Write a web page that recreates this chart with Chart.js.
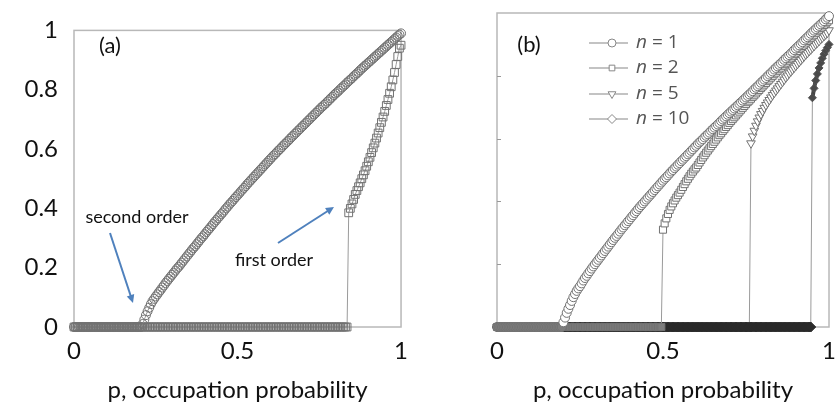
<!DOCTYPE html>
<html>
<head>
<meta charset="utf-8">
<script src="https://cdn.jsdelivr.net/npm/chart.js@4.4.0/dist/chart.umd.min.js"></script>
<style>
  html, body { margin: 0; padding: 0; background: #fff; overflow: hidden; width: 835px; height: 410px; }
  #chartA { position: absolute; left: 0; top: 0; }
  #chartB { position: absolute; left: 418px; top: 0; }
</style>
</head>
<body>
<canvas id="chartA" width="418" height="410"></canvas>
<canvas id="chartB" width="440" height="410"></canvas>
<script>
// occupation probability grid, step 0.005
const p = Array.from({ length: 201 }, (_, i) => i / 200);

const xTickLabels = ['0', '0.5', '1'];
const yTickLabels = ['0', '0.2', '0.4', '0.6', '0.8', '1'];

// panel (a): one row = 0.05 of p
const aSecond = [
  0, 0, 0, 0, 0, 0, 0, 0, 0, 0,
  0, 0, 0, 0, 0, 0, 0, 0, 0, 0,
  0, 0, 0, 0, 0, 0, 0, 0, 0, 0,
  0, 0, 0, 0, 0, 0, 0, 0, 0, 0,
  0, 0, 0.01, 0.025, 0.04, 0.053, 0.065, 0.077, 0.087, 0.095,
  0.103, 0.11, 0.118, 0.125, 0.133, 0.14, 0.148, 0.155, 0.162, 0.169,
  0.176, 0.183, 0.19, 0.197, 0.203, 0.21, 0.217, 0.224, 0.231, 0.238,
  0.245, 0.252, 0.259, 0.266, 0.272, 0.279, 0.286, 0.293, 0.30, 0.306,
  0.313, 0.32, 0.327, 0.333, 0.34, 0.347, 0.354, 0.36, 0.367, 0.373,
  0.38, 0.386, 0.393, 0.40, 0.406, 0.413, 0.419, 0.425, 0.432, 0.438,
  0.444, 0.45, 0.457, 0.463, 0.469, 0.475, 0.482, 0.488, 0.494, 0.50,
  0.506, 0.512, 0.518, 0.524, 0.53, 0.536, 0.542, 0.548, 0.554, 0.56,
  0.566, 0.572, 0.578, 0.583, 0.589, 0.595, 0.60, 0.606, 0.612, 0.617,
  0.623, 0.628, 0.634, 0.64, 0.645, 0.651, 0.656, 0.662, 0.667, 0.673,
  0.678, 0.684, 0.689, 0.695, 0.70, 0.706, 0.711, 0.717, 0.722, 0.728,
  0.733, 0.739, 0.744, 0.749, 0.754, 0.76, 0.765, 0.771, 0.776, 0.782,
  0.787, 0.792, 0.797, 0.803, 0.808, 0.813, 0.818, 0.824, 0.829, 0.834,
  0.839, 0.845, 0.85, 0.855, 0.86, 0.866, 0.871, 0.876, 0.881, 0.886,
  0.891, 0.896, 0.901, 0.906, 0.911, 0.916, 0.921, 0.926, 0.931, 0.936,
  0.941, 0.946, 0.951, 0.956, 0.961, 0.966, 0.971, 0.976, 0.981, 0.986,
  0.99
];
const aFirst = [
  0, 0, 0, 0, 0, 0, 0, 0, 0, 0,
  0, 0, 0, 0, 0, 0, 0, 0, 0, 0,
  0, 0, 0, 0, 0, 0, 0, 0, 0, 0,
  0, 0, 0, 0, 0, 0, 0, 0, 0, 0,
  0, 0, 0, 0, 0, 0, 0, 0, 0, 0,
  0, 0, 0, 0, 0, 0, 0, 0, 0, 0,
  0, 0, 0, 0, 0, 0, 0, 0, 0, 0,
  0, 0, 0, 0, 0, 0, 0, 0, 0, 0,
  0, 0, 0, 0, 0, 0, 0, 0, 0, 0,
  0, 0, 0, 0, 0, 0, 0, 0, 0, 0,
  0, 0, 0, 0, 0, 0, 0, 0, 0, 0,
  0, 0, 0, 0, 0, 0, 0, 0, 0, 0,
  0, 0, 0, 0, 0, 0, 0, 0, 0, 0,
  0, 0, 0, 0, 0, 0, 0, 0, 0, 0,
  0, 0, 0, 0, 0, 0, 0, 0, 0, 0,
  0, 0, 0, 0, 0, 0, 0, 0, 0, 0,
  0, 0, 0, 0, 0, 0, 0, 0, 0.385, 0.40,
  0.415, 0.43, 0.447, 0.46, 0.473, 0.486, 0.50, 0.513, 0.527, 0.542,
  0.557, 0.572, 0.588, 0.604, 0.62, 0.637, 0.654, 0.672, 0.69, 0.708,
  0.727, 0.747, 0.767, 0.788, 0.81, 0.833, 0.858, 0.885, 0.912, 0.94,
  0.95
];

// panel (b)
const bN1 = [
  0, 0, 0, 0, 0, 0, 0, 0, 0, 0,
  0, 0, 0, 0, 0, 0, 0, 0, 0, 0,
  0, 0, 0, 0, 0, 0, 0, 0, 0, 0,
  0, 0, 0, 0, 0, 0, 0, 0, 0, 0,
  0.015, 0.03, 0.045, 0.058, 0.07, 0.083, 0.095, 0.105, 0.115, 0.123,
  0.13, 0.139, 0.148, 0.156, 0.163, 0.171, 0.178, 0.186, 0.193, 0.20,
  0.207, 0.214, 0.221, 0.228, 0.235, 0.242, 0.249, 0.256, 0.263, 0.27,
  0.277, 0.284, 0.29, 0.297, 0.304, 0.311, 0.317, 0.324, 0.33, 0.337,
  0.343, 0.35, 0.356, 0.363, 0.369, 0.376, 0.382, 0.388, 0.394, 0.40,
  0.406, 0.412, 0.418, 0.424, 0.43, 0.436, 0.442, 0.448, 0.454, 0.46,
  0.466, 0.472, 0.477, 0.483, 0.489, 0.495, 0.50, 0.506, 0.511, 0.517,
  0.522, 0.528, 0.533, 0.539, 0.544, 0.55, 0.555, 0.561, 0.566, 0.572,
  0.577, 0.583, 0.588, 0.593, 0.598, 0.604, 0.609, 0.614, 0.619, 0.625,
  0.63, 0.635, 0.64, 0.645, 0.65, 0.656, 0.661, 0.666, 0.671, 0.676,
  0.681, 0.686, 0.691, 0.696, 0.701, 0.706, 0.711, 0.716, 0.721, 0.726,
  0.731, 0.736, 0.741, 0.746, 0.751, 0.757, 0.762, 0.767, 0.772, 0.778,
  0.783, 0.788, 0.793, 0.799, 0.804, 0.809, 0.814, 0.82, 0.825, 0.83,
  0.835, 0.84, 0.845, 0.851, 0.856, 0.861, 0.866, 0.871, 0.876, 0.882,
  0.887, 0.892, 0.897, 0.902, 0.907, 0.913, 0.918, 0.923, 0.928, 0.934,
  0.939, 0.944, 0.949, 0.954, 0.959, 0.964, 0.969, 0.974, 0.98, 0.985,
  0.99
];
const bN2 = [
  0, 0, 0, 0, 0, 0, 0, 0, 0, 0,
  0, 0, 0, 0, 0, 0, 0, 0, 0, 0,
  0, 0, 0, 0, 0, 0, 0, 0, 0, 0,
  0, 0, 0, 0, 0, 0, 0, 0, 0, 0,
  0, 0, 0, 0, 0, 0, 0, 0, 0, 0,
  0, 0, 0, 0, 0, 0, 0, 0, 0, 0,
  0, 0, 0, 0, 0, 0, 0, 0, 0, 0,
  0, 0, 0, 0, 0, 0, 0, 0, 0, 0,
  0, 0, 0, 0, 0, 0, 0, 0, 0, 0,
  0, 0, 0, 0, 0, 0, 0, 0, 0, 0,
  0.31, 0.33, 0.346, 0.36, 0.373, 0.384, 0.394, 0.403, 0.412, 0.42,
  0.428, 0.437, 0.446, 0.455, 0.464, 0.472, 0.48, 0.488, 0.495, 0.502,
  0.508, 0.516, 0.524, 0.532, 0.54, 0.547, 0.555, 0.562, 0.569, 0.576,
  0.583, 0.59, 0.597, 0.604, 0.611, 0.617, 0.624, 0.63, 0.637, 0.643,
  0.65, 0.656, 0.662, 0.668, 0.674, 0.68, 0.686, 0.692, 0.698, 0.704,
  0.71, 0.716, 0.721, 0.727, 0.733, 0.738, 0.744, 0.75, 0.755, 0.761,
  0.766, 0.772, 0.777, 0.783, 0.788, 0.794, 0.799, 0.805, 0.81, 0.816,
  0.821, 0.826, 0.832, 0.837, 0.842, 0.848, 0.853, 0.858, 0.864, 0.869,
  0.874, 0.879, 0.885, 0.89, 0.895, 0.90, 0.906, 0.911, 0.916, 0.921,
  0.926, 0.931, 0.937, 0.942, 0.947, 0.952, 0.957, 0.962, 0.967, 0.972,
  0.977
];
const bN5 = [
  0, 0, 0, 0, 0, 0, 0, 0, 0, 0,
  0, 0, 0, 0, 0, 0, 0, 0, 0, 0,
  0, 0, 0, 0, 0, 0, 0, 0, 0, 0,
  0, 0, 0, 0, 0, 0, 0, 0, 0, 0,
  0, 0, 0, 0, 0, 0, 0, 0, 0, 0,
  0, 0, 0, 0, 0, 0, 0, 0, 0, 0,
  0, 0, 0, 0, 0, 0, 0, 0, 0, 0,
  0, 0, 0, 0, 0, 0, 0, 0, 0, 0,
  0, 0, 0, 0, 0, 0, 0, 0, 0, 0,
  0, 0, 0, 0, 0, 0, 0, 0, 0, 0,
  0, 0, 0, 0, 0, 0, 0, 0, 0, 0,
  0, 0, 0, 0, 0, 0, 0, 0, 0, 0,
  0, 0, 0, 0, 0, 0, 0, 0, 0, 0,
  0, 0, 0, 0, 0, 0, 0, 0, 0, 0,
  0, 0, 0, 0, 0, 0, 0, 0, 0, 0,
  0, 0, 0, 0.585, 0.607, 0.625, 0.641, 0.655, 0.667, 0.678,
  0.688, 0.698, 0.707, 0.715, 0.723, 0.731, 0.739, 0.746, 0.753, 0.76,
  0.767, 0.774, 0.781, 0.788, 0.795, 0.801, 0.808, 0.814, 0.82, 0.826,
  0.832, 0.838, 0.844, 0.85, 0.856, 0.862, 0.868, 0.873, 0.879, 0.884,
  0.89, 0.895, 0.901, 0.906, 0.911, 0.917, 0.922, 0.927, 0.932, 0.937,
  0.945
];
const bN10 = [
  0, 0, 0, 0, 0, 0, 0, 0, 0, 0,
  0, 0, 0, 0, 0, 0, 0, 0, 0, 0,
  0, 0, 0, 0, 0, 0, 0, 0, 0, 0,
  0, 0, 0, 0, 0, 0, 0, 0, 0, 0,
  0, 0, 0, 0, 0, 0, 0, 0, 0, 0,
  0, 0, 0, 0, 0, 0, 0, 0, 0, 0,
  0, 0, 0, 0, 0, 0, 0, 0, 0, 0,
  0, 0, 0, 0, 0, 0, 0, 0, 0, 0,
  0, 0, 0, 0, 0, 0, 0, 0, 0, 0,
  0, 0, 0, 0, 0, 0, 0, 0, 0, 0,
  0, 0, 0, 0, 0, 0, 0, 0, 0, 0,
  0, 0, 0, 0, 0, 0, 0, 0, 0, 0,
  0, 0, 0, 0, 0, 0, 0, 0, 0, 0,
  0, 0, 0, 0, 0, 0, 0, 0, 0, 0,
  0, 0, 0, 0, 0, 0, 0, 0, 0, 0,
  0, 0, 0, 0, 0, 0, 0, 0, 0, 0,
  0, 0, 0, 0, 0, 0, 0, 0, 0, 0,
  0, 0, 0, 0, 0, 0, 0, 0, 0, 0,
  0, 0, 0, 0, 0, 0, 0, 0, 0, 0,
  0.73, 0.76, 0.785, 0.806, 0.825, 0.841, 0.856, 0.869, 0.88, 0.89,
  0.90
];

const legendLabels = ['1', '2', '5', '10'];

[aSecond, aFirst, bN1, bN2, bN5, bN10].forEach((s, k) => {
  if (s.length !== p.length) throw new Error('series ' + k + ' has ' + s.length + ' values');
});

const pts = vals => vals.map((v, i) => ({ x: p[i], y: v }));

function series(vals, style, radius, fill, extra) {
  return Object.assign({
    data: pts(vals),
    borderColor: '#9a9a9a',
    borderWidth: 1,
    pointStyle: style,
    pointRadius: radius,
    pointBorderColor: '#727272',
    pointBackgroundColor: fill,
    pointBorderWidth: 1,
    tension: 0,
    clip: false
  }, extra || {});
}

// zero-level markers of the top series in (b) read as a grey band
const bandFill = c => (c.raw && c.raw.y === 0 ? '#7d7d7d' : '#fff');

const tickFont = { family: 'Lato', size: 24 };

function axes(yWidth, showY) {
  return {
    x: {
      type: 'linear', min: 0, max: 1,
      grid: { display: false, drawTicks: false },
      border: { display: false },
      afterBuildTicks: s => { s.ticks = [0, 0.5, 1].map(v => ({ value: v })); },
      ticks: {
        padding: 10,
        color: '#111',
        font: tickFont,
        callback: (v, i) => xTickLabels[i]
      },
      title: {
        display: true,
        text: 'p, occupation probability',
        color: '#111',
        font: tickFont,
        padding: { top: 0, bottom: 5 }
      },
      afterFit: s => { s.height = 83; }
    },
    y: {
      min: 0, max: 1,
      grid: { display: false, drawTicks: false },
      border: { display: false },
      ticks: {
        display: showY,
        stepSize: 0.2,
        padding: 16,
        color: '#111',
        font: tickFont,
        callback: (v, i) => yTickLabels[i]
      },
      afterFit: s => { s.width = yWidth; }
    }
  };
}

const frame = {
  id: 'frame',
  beforeDatasetsDraw(chart) {
    const { ctx, chartArea: a } = chart;
    ctx.save();
    ctx.strokeStyle = '#b8b8b8';
    ctx.lineWidth = 1.5;
    ctx.strokeRect(a.left, a.top, a.right - a.left, a.bottom - a.top);
    ctx.restore();
  }
};

function arrow(ctx, x1, y1, x2, y2) {
  const ang = Math.atan2(y2 - y1, x2 - x1);
  ctx.beginPath();
  ctx.moveTo(x1, y1);
  ctx.lineTo(x2 - 6 * Math.cos(ang), y2 - 6 * Math.sin(ang));
  ctx.stroke();
  ctx.beginPath();
  ctx.moveTo(x2, y2);
  ctx.lineTo(x2 - 9 * Math.cos(ang - 0.45), y2 - 9 * Math.sin(ang - 0.45));
  ctx.lineTo(x2 - 9 * Math.cos(ang + 0.45), y2 - 9 * Math.sin(ang + 0.45));
  ctx.closePath();
  ctx.fill();
}

const notesA = {
  id: 'notesA',
  afterDraw(chart) {
    const ctx = chart.ctx;
    ctx.save();
    ctx.fillStyle = '#111';
    ctx.textBaseline = 'middle';
    ctx.textAlign = 'center';
    ctx.font = '22px Lato';
    ctx.fillText('(a)', 110, 46);
    ctx.font = '18px Lato';
    ctx.fillText('second order', 137, 217);
    ctx.fillText('first order', 274, 260);
    ctx.strokeStyle = '#4f81bd';
    ctx.fillStyle = '#4f81bd';
    ctx.lineWidth = 2;
    arrow(ctx, 110, 233, 133, 303);
    arrow(ctx, 278, 243, 334, 207);
    ctx.restore();
  }
};

const legendStyles = [
  { pointStyle: 'circle', radius: 4, rotation: 0 },
  { pointStyle: 'rect', radius: 4, rotation: 0 },
  { pointStyle: 'triangle', radius: 4.5, rotation: 180 },
  { pointStyle: 'rectRot', radius: 4.5, rotation: 0 }
];

const notesB = {
  id: 'notesB',
  afterDraw(chart) {
    const ctx = chart.ctx;
    const y = chart.scales.y;
    const left = chart.chartArea.left;
    ctx.save();
    ctx.strokeStyle = '#999';
    ctx.lineWidth = 1;
    y.ticks.forEach(t => {
      if (t.value > 0 && t.value < 1) {
        const py = Math.round(y.getPixelForValue(t.value)) + 0.5;
        ctx.beginPath();
        ctx.moveTo(left, py);
        ctx.lineTo(left + 4, py);
        ctx.stroke();
      }
    });
    ctx.fillStyle = '#111';
    ctx.textBaseline = 'middle';
    ctx.textAlign = 'center';
    ctx.font = '22px Lato';
    ctx.fillText('(b)', 111, 45);
    const rows = [43, 68, 94, 119];
    legendLabels.forEach((lab, i) => {
      const ry = rows[i];
      ctx.strokeStyle = '#888';
      ctx.lineWidth = 1.2;
      ctx.beginPath();
      ctx.moveTo(171, ry);
      ctx.lineTo(210, ry);
      ctx.stroke();
      ctx.fillStyle = '#fff';
      ctx.lineWidth = 1;
      Chart.helpers.drawPoint(ctx, Object.assign({ borderWidth: 1 }, legendStyles[i]), 194, ry);
      ctx.fillStyle = '#555';
      ctx.textAlign = 'left';
      ctx.font = 'italic 19px "Open Sans"';
      ctx.fillText('n', 218, ry);
      const w = ctx.measureText('n').width;
      ctx.font = '19px "Open Sans"';
      ctx.fillText(' = ' + lab, 218 + w, ry);
    });
    ctx.restore();
  }
};

new Chart(document.getElementById('chartA'), {
  type: 'line',
  data: {
    datasets: [
      series(aSecond, 'circle', 4.5, 'rgba(255,255,255,0)'),
      series(aFirst, 'rect', 5.5, 'rgba(255,255,255,0)')
    ]
  },
  options: {
    responsive: false,
    animation: false,
    layout: { padding: { top: 13, right: 12, left: 0, bottom: 0 } },
    plugins: { legend: { display: false }, tooltip: { enabled: false } },
    scales: axes(74, true)
  },
  plugins: [frame, notesA]
});

new Chart(document.getElementById('chartB'), {
  type: 'line',
  data: {
    datasets: [
      series(bN1, 'circle', 4.5, bandFill),
      series(bN2, 'rect', 5, bandFill),
      series(bN10, 'rectRot', 5, '#2a2a2a', {
        pointRadius: c => (c.raw && c.raw.y > 0 ? 4 : 5),
        pointBackgroundColor: c => (c.raw && c.raw.y > 0 ? '#4a4a4a' : '#2a2a2a'),
        pointBorderColor: c => (c.raw && c.raw.y > 0 ? '#555' : '#2a2a2a'),
        segment: {
          borderWidth: c => (c.p0.parsed.y > 0 ? 4 : 1),
          borderColor: c => (c.p0.parsed.y > 0 ? '#444' : '#9a9a9a')
        }
      }),
      series(bN5, 'triangle', 5, '#fff', { pointRotation: 180 })
    ]
  },
  options: {
    responsive: false,
    animation: false,
    layout: { padding: { top: 13, right: 29, left: 0, bottom: 0 } },
    plugins: { legend: { display: false }, tooltip: { enabled: false } },
    scales: axes(79, false)
  },
  plugins: [frame, notesB]
});
</script>
</body>
</html>
